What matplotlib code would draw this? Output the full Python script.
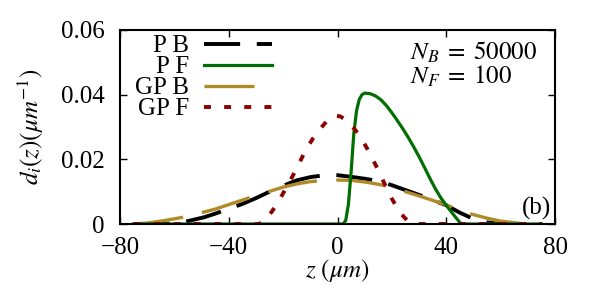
import matplotlib
matplotlib.use("Agg")
import matplotlib.pyplot as plt

plt.rcParams['font.family'] = ['Liberation Serif', 'DejaVu Serif']
plt.rcParams['mathtext.fontset'] = 'stix'
plt.rcParams['lines.scale_dashes'] = False

# P B (black dashed)
z_pb = [-75, -70, -65, -60, -55, -49, -45, -40, -35, -30, -25, -21, -15, -10, -4, 0, 5,
        10, 15, 20, 25, 30, 35, 40, 45, 50, 55, 60, 65, 75]
d_pb = [0.0, 0.0, 0.0, 0.0002, 0.0009, 0.0021, 0.0032, 0.0047, 0.0062, 0.0080, 0.0100,
        0.0115, 0.0135, 0.0145, 0.0152, 0.0151, 0.0146, 0.0140, 0.0133, 0.0120, 0.0105,
        0.0090, 0.0074, 0.0058, 0.0035, 0.0016, 0.0005, 0.0, 0.0, 0.0]

# P F (green solid)
z_pf = [-75, 0, 2, 3, 4, 5, 6, 7, 8, 9, 10, 12, 14, 16, 18, 20, 22, 24, 26, 28, 30,
        32, 34, 36, 38, 40, 42, 44, 45.5, 60, 75]
d_pf = [0.0, 0.0, 0.0, 0.001, 0.006, 0.016, 0.028, 0.035, 0.0385, 0.0400, 0.0405,
        0.0403, 0.0396, 0.0384, 0.0366, 0.0344, 0.0320, 0.0295, 0.0268, 0.0239, 0.0208,
        0.0175, 0.0141, 0.0109, 0.0081, 0.0058, 0.0036, 0.0015, 0.0, 0.0, 0.0]

# GP B (gold dashed)
z_gb = [-75, -70, -65, -60, -55, -50, -45, -40, -35, -30, -25, -20, -15, -10, -5, 0,
        5, 10, 15, 20, 25, 30, 35, 40, 45, 50, 55, 60, 65, 70, 75]
d_gb = [0.0, 0.0003, 0.0009, 0.0016, 0.0024, 0.0035, 0.0046, 0.0060, 0.0074, 0.0088,
        0.0101, 0.0114, 0.0124, 0.0131, 0.0135, 0.0136, 0.0135, 0.0130, 0.0123, 0.0113,
        0.0100, 0.0087, 0.0073, 0.0059, 0.0043, 0.0029, 0.0018, 0.0009, 0.0004, 0.0001, 0.0]

# GP F (dark red dotted)
z_gf = [-75, -29, -27, -24, -21, -18, -15, -12, -9, -6, -3, -1, 1, 3, 5, 8, 11, 14,
        17, 20, 23, 26, 28, 75]
d_gf = [0.0, 0.0, 0.0008, 0.0040, 0.0080, 0.0125, 0.0172, 0.0224, 0.0265, 0.0298,
        0.0327, 0.0335, 0.0333, 0.0322, 0.0307, 0.0275, 0.0232, 0.0183, 0.0130, 0.0078,
        0.0035, 0.0008, 0.0, 0.0]

x_ticks = [-80, -40, 0, 40, 80]
y_ticks = [0, 0.02, 0.04, 0.06]
y_ticklabels = ['0', '0.02', '0.04', '0.06']

FS = 18

fig = plt.figure(figsize=(6, 3), dpi=100)
ax = fig.add_axes([0.2, 0.2533, 0.725, 0.6467])

l_pb, = ax.plot(z_pb, d_pb, color='black', lw=2.8, dashes=(26, 12),
                dash_capstyle='butt', label='P B')
l_gb, = ax.plot(z_gb, d_gb, color='#b08a28', lw=2.4, dashes=(36, 14),
                dash_capstyle='butt', label='GP B')
l_pf, = ax.plot(z_pf, d_pf, color='#006e00', lw=2.3, label='P F')
l_gf, = ax.plot(z_gf, d_gf, color='#8f0000', lw=2.8, dashes=(5, 9.5),
                dash_capstyle='butt', label='GP F')

ax.set_xlim(-80, 80)
ax.set_ylim(0, 0.06)
ax.set_xticks(x_ticks)
ax.set_yticks(y_ticks)
ax.set_yticklabels(y_ticklabels)
ax.tick_params(direction='in', top=True, right=True, length=5, width=1.0,
               labelsize=FS)
ax.tick_params(axis='x', pad=9)
ax.tick_params(axis='y', pad=11)
for s in ax.spines.values():
    s.set_linewidth(1.5)

ax.set_xlabel(r'$z\ (\mu m)$', fontsize=FS, labelpad=-1)
ax.set_ylabel(r'$d_i(z)(\mu m^{-1})$', fontsize=FS, labelpad=11)

leg = ax.legend([l_pb, l_pf, l_gb, l_gf], ['P B', 'P F', 'GP B', 'GP F'],
                loc='upper left', bbox_to_anchor=(0.035, 0.975), frameon=False,
                markerfirst=False, fontsize=FS, handlelength=2.7,
                handletextpad=0.6, labelspacing=-0.06, borderaxespad=0.0,
                borderpad=0.0)

ax.text(0.958, 0.95, '$N_B\\;=\\;50000$\n$N_F\\;=\\;100$', transform=ax.transAxes,
        ha='right', va='top', multialignment='left', fontsize=FS, linespacing=0.95)
ax.text(0.99, 0.02, '(b)', transform=ax.transAxes, ha='right', va='bottom',
        fontsize=FS)

fig.savefig('out.png', dpi=100)
